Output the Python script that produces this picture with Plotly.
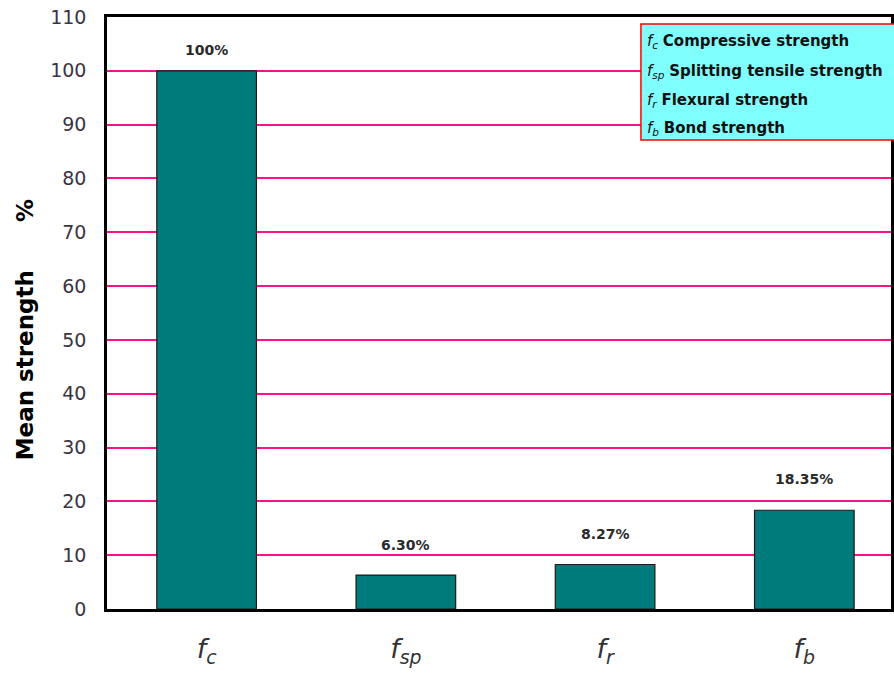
import plotly.graph_objects as go

# Mean strength of each property, as a percentage of compressive strength
categories = ["<i>f<sub>c</sub></i>", "<i>f<sub>sp</sub></i>", "<i>f<sub>r</sub></i>", "<i>f<sub>b</sub></i>"]
values = [100, 6.30, 8.27, 18.35]
value_labels = ["100%", "6.30%", "8.27%", "18.35%"]
legend_subs = ["c", "sp", "r", "b"]
legend_names = ["Compressive strength", "Splitting tensile strength", "Flexural strength", "Bond strength"]
y_ticks = [0, 10, 20, 30, 40, 50, 60, 70, 80, 90, 100, 110]

W, H = 894, 677
L, R, T, B = 107, 0, 17, 68
pw, ph = W - L - R, H - T - B

fig = go.Figure()
fig.add_trace(go.Bar(
    x=list(range(len(values))), y=values,
    width=0.5,
    marker=dict(color="#007B7B", line=dict(color="#1a1a1a", width=1.2)),
    showlegend=False,
))

# value labels above each bar
shifts = [11, 20, 20, 21]
for i, (v, t) in enumerate(zip(values, value_labels)):
    fig.add_annotation(x=i, y=v, text=f"<b>{t}</b>", showarrow=False, yanchor="bottom",
                       yshift=shifts[i],
                       font=dict(family="DejaVu Sans", size=14, color="#2a2a2a"),
                       )

# legend box
def px_x(p):
    return (p - L) / pw

def px_y(p):
    return (H - B - p) / ph

fig.add_shape(type="rect", xref="paper", yref="paper",
              x0=px_x(643), x1=px_x(900), y0=px_y(140), y1=px_y(24),
              fillcolor="#80FFFF", line=dict(color="#FF0000", width=1.5), layer="above")
for k, (s, n) in enumerate(zip(legend_subs, legend_names)):
    fig.add_annotation(xref="paper", yref="paper", x=px_x(647), y=px_y(42 + 29 * k),
                       xanchor="left", yanchor="middle", showarrow=False,
                       text=f"<i>f<sub>{s}</sub></i>&nbsp;<b>{n}</b>",
                       font=dict(family="DejaVu Sans", size=15, color="#111"))

# y-axis title
fig.add_annotation(xref="paper", yref="paper", x=px_x(25), y=px_y(330), textangle=-90,
                   showarrow=False, xanchor="center", yanchor="middle",
                   text="<b>Mean strength&nbsp;&nbsp;&nbsp;&nbsp;&nbsp;&nbsp;%</b>",
                   font=dict(family="DejaVu Sans", size=23, color="#000"))

fig.update_layout(
    width=W, height=H,
    margin=dict(l=L, r=R, t=T, b=B, pad=0),
    paper_bgcolor="white", plot_bgcolor="white",
    bargap=0.5,
)
fig.update_xaxes(
    range=[-0.5, -0.5 + pw / 200], tickmode="array",
    tickvals=list(range(len(categories))), ticktext=categories,
    tickfont=dict(family="DejaVu Sans", size=27, color="#333"),
    showgrid=False, showline=True, linecolor="black", linewidth=2.5,
    mirror=True, ticks="", ticklabelstandoff=14, zeroline=False,
)
fig.update_yaxes(
    range=[0, 110], tickmode="array", tickvals=y_ticks,
    tickfont=dict(family="DejaVu Sans", size=19, color="#3a3440"),
    showgrid=True, gridcolor="#FF1088", gridwidth=1.5,
    showline=True, linecolor="black", linewidth=2.5, mirror=True,
    ticks="", ticklabelstandoff=14, zeroline=False,
)

fig.write_html("out.html")
